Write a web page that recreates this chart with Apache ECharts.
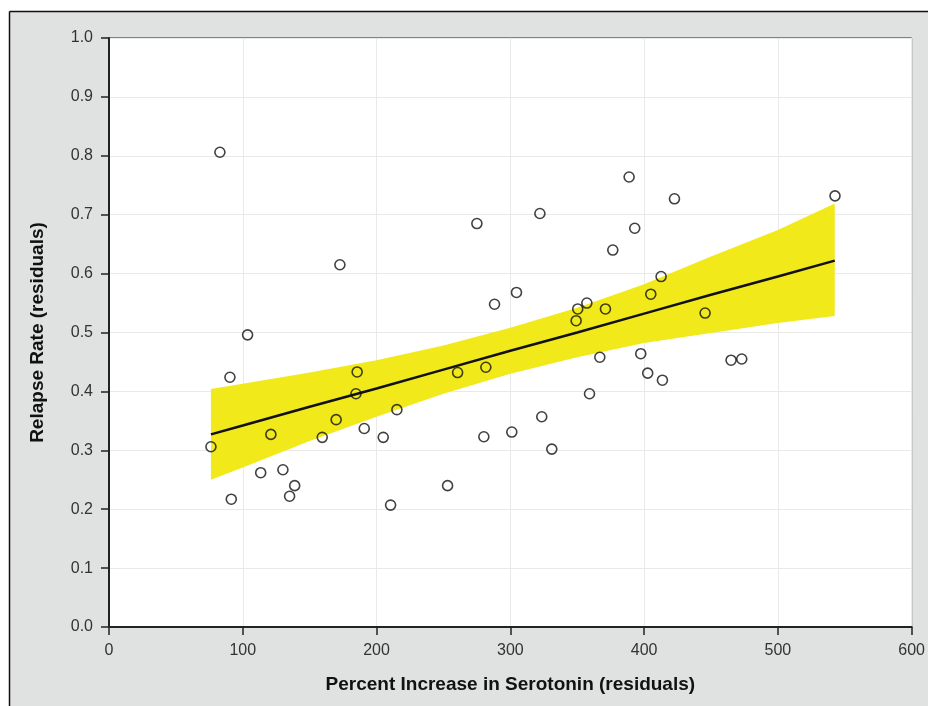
<!DOCTYPE html>
<html>
<head>
<meta charset="utf-8">
<script src="https://cdn.jsdelivr.net/npm/echarts@6/dist/echarts.min.js"></script>
<style>
html,body{margin:0;padding:0;background:#fff;}
#chart{width:928px;height:706px;}
</style>
</head>
<body>
<div id="chart"></div>
<script>
// Scatter points (Percent Increase in Serotonin residuals, Relapse Rate residuals)
var pointX = [82.9, 76.2, 90.4, 91.4, 103.6, 121.0, 113.4, 130.0, 135.0, 138.8,
  159.4, 172.6, 169.8, 185.5, 184.6, 190.8, 205.0, 215.2, 210.5, 253.1,
  260.6, 275.0, 280.2, 281.7, 288.2, 304.6, 301.1, 322.1, 323.5, 331.0,
  349.2, 350.4, 357.2, 359.2, 371.1, 366.9, 376.6, 388.8, 393.0, 397.5,
  402.7, 405.0, 412.7, 413.7, 422.7, 445.6, 465.0, 473.0, 542.7];
var pointY = [0.806, 0.306, 0.424, 0.217, 0.496, 0.327, 0.262, 0.267, 0.222, 0.240,
  0.322, 0.615, 0.352, 0.433, 0.396, 0.337, 0.322, 0.369, 0.207, 0.240,
  0.432, 0.685, 0.323, 0.441, 0.548, 0.568, 0.331, 0.702, 0.357, 0.302,
  0.520, 0.540, 0.550, 0.396, 0.540, 0.458, 0.640, 0.764, 0.677, 0.464,
  0.431, 0.565, 0.595, 0.419, 0.727, 0.533, 0.453, 0.455, 0.732];

// Fit line and confidence band
var bandX     = [76.2, 100, 150, 200, 250, 300, 350, 400, 450, 500, 542.5];
var fitY      = [0.327, 0.342, 0.374, 0.405, 0.437, 0.469, 0.500, 0.532, 0.564, 0.595, 0.622];
var bandLower = [0.250, 0.271, 0.316, 0.357, 0.396, 0.430, 0.458, 0.482, 0.499, 0.516, 0.528];
var bandUpper = [0.404, 0.413, 0.432, 0.453, 0.478, 0.508, 0.542, 0.582, 0.629, 0.674, 0.719];

var xTitle = 'Percent Increase in Serotonin (residuals)';
var yTitle = 'Relapse Rate (residuals)';

var chart = echarts.init(document.getElementById('chart'), null, {renderer: 'canvas'});

var option = {
  backgroundColor: '#e0e1e1',
  animation: false,
  graphic: [
    {type: 'rect', z: 100, shape: {x: 0, y: 0, width: 928, height: 11}, style: {fill: '#fff'}},
    {type: 'rect', z: 100, shape: {x: 0, y: 0, width: 9, height: 706}, style: {fill: '#fff'}},
    {type: 'line', z: 101, shape: {x1: 9.5, y1: 11.5, x2: 928, y2: 11.5}, style: {stroke: '#111', lineWidth: 1.5}},
    {type: 'line', z: 101, shape: {x1: 9.5, y1: 11.5, x2: 9.5, y2: 706}, style: {stroke: '#111', lineWidth: 1.5}}
  ],
  grid: {
    left: 109, top: 38, right: 16, bottom: 79,
    show: true, backgroundColor: '#fff', borderColor: '#222', borderWidth: 1
  },
  xAxis: {
    type: 'value', min: 0, max: 600, interval: 100,
    name: xTitle, nameLocation: 'middle', nameGap: 48,
    nameTextStyle: {fontFamily: 'Liberation Sans, Arial', fontWeight: 'bold', fontSize: 19, color: '#111'},
    axisLine: {show: true, lineStyle: {color: '#222', width: 2}},
    axisTick: {show: true, length: 8, lineStyle: {color: '#222', width: 1.5}},
    axisLabel: {fontFamily: 'Liberation Sans, Arial', fontSize: 16, color: '#333', margin: 16},
    splitLine: {show: true, lineStyle: {color: '#e9e9e9', width: 1}}
  },
  yAxis: {
    type: 'value', min: 0, max: 1, interval: 0.1,
    name: yTitle, nameLocation: 'middle', nameGap: 62,
    nameTextStyle: {fontFamily: 'Liberation Sans, Arial', fontWeight: 'bold', fontSize: 19, color: '#111'},
    axisLine: {show: true, lineStyle: {color: '#222', width: 2}},
    axisTick: {show: true, length: 8, lineStyle: {color: '#222', width: 1.5}},
    axisLabel: {fontFamily: 'Liberation Sans, Arial', fontSize: 16, color: '#333', margin: 16,
      formatter: function (v) { return v.toFixed(1); }},
    splitLine: {show: true, lineStyle: {color: '#e9e9e9', width: 1}}
  },
  series: [
    {
      type: 'custom',
      z: 1,
      data: bandX.map(function (x, i) { return [x, bandLower[i], bandUpper[i]]; }),
      encode: {x: 0, y: [1, 2]},
      renderItem: function (params, api) {
        if (params.dataIndex !== 0) return null;
        var pts = [];
        for (var i = 0; i < bandX.length; i++) pts.push(api.coord([bandX[i], bandUpper[i]]));
        for (var j = bandX.length - 1; j >= 0; j--) pts.push(api.coord([bandX[j], bandLower[j]]));
        return {type: 'polygon', shape: {points: pts}, style: {fill: '#f1e919', stroke: null}};
      },
      silent: true
    },
    {
      type: 'line',
      z: 2,
      data: bandX.map(function (x, i) { return [x, fitY[i]]; }),
      showSymbol: false, symbol: 'none',
      lineStyle: {color: '#111', width: 2.5},
      silent: true
    },
    {
      type: 'scatter',
      z: 3,
      data: pointX.map(function (x, i) { return [x, pointY[i]]; }),
      symbol: 'circle', symbolSize: 10,
      itemStyle: {color: 'rgba(0,0,0,0)', borderColor: '#111', borderWidth: 1.6}
    }
  ]
};
chart.setOption(option);
</script>
</body>
</html>
